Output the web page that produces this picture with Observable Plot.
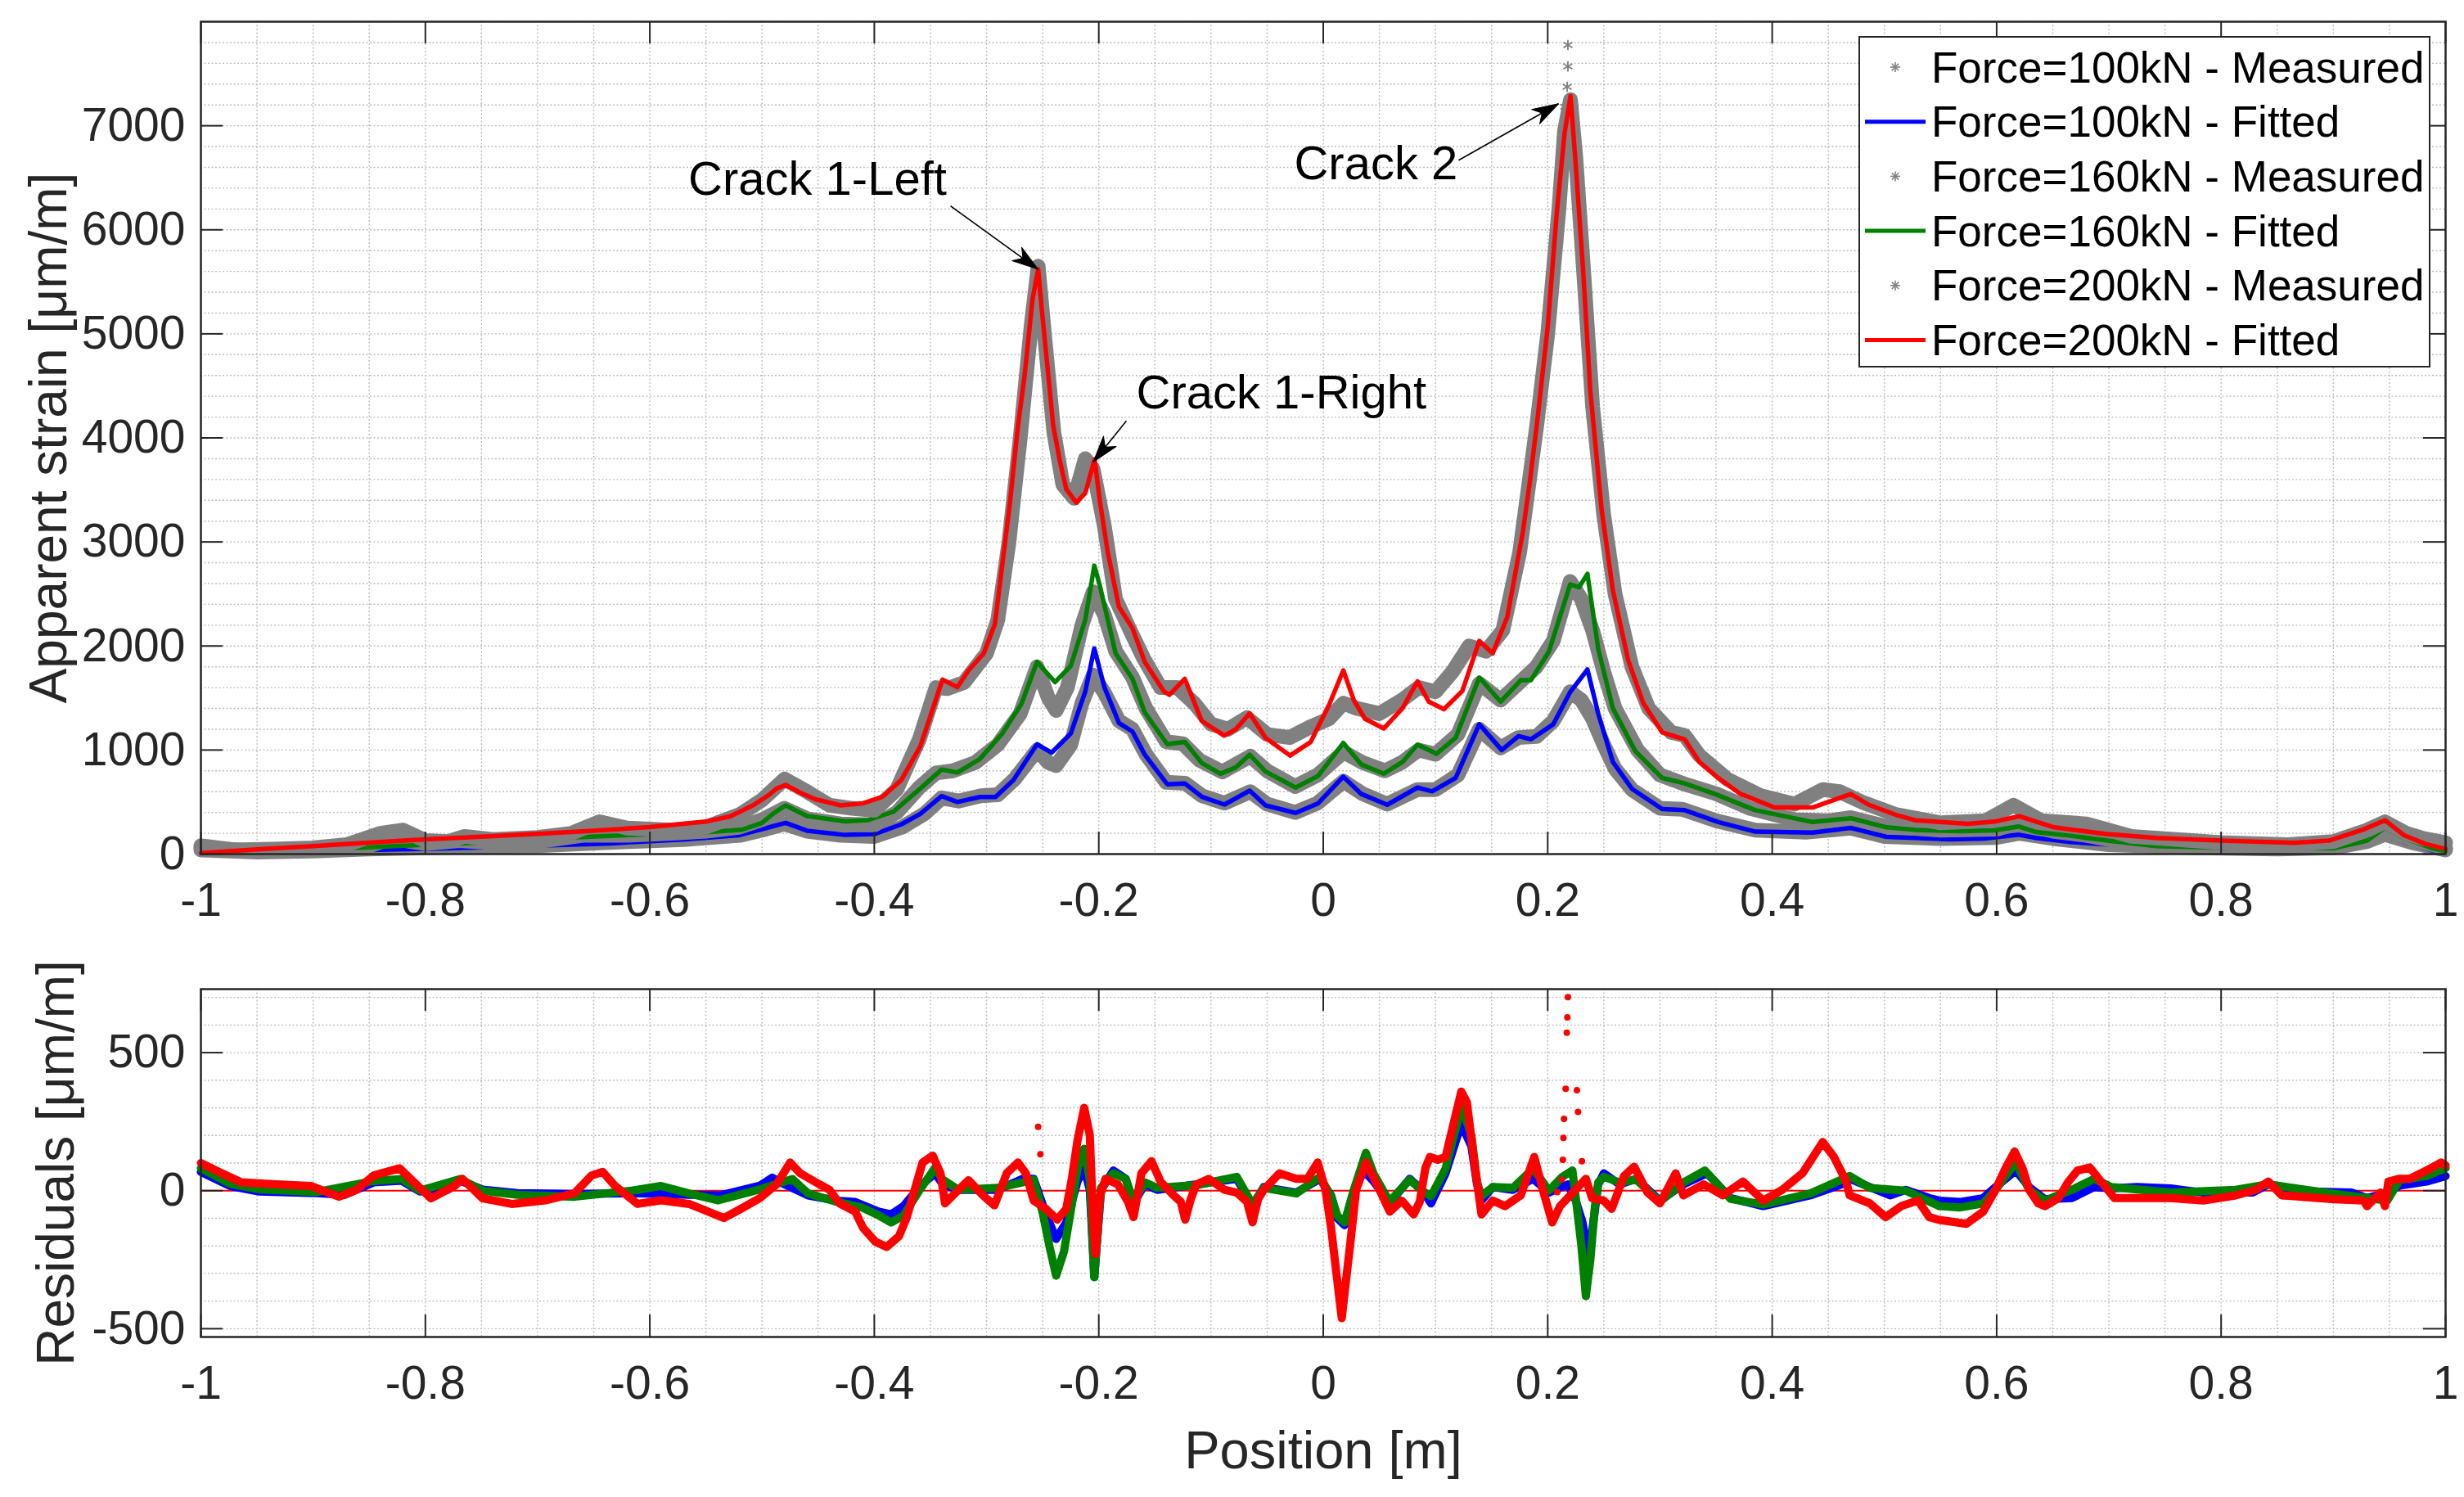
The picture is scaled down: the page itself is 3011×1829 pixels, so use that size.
<!DOCTYPE html>
<html><head><meta charset="utf-8">
<script src="https://cdn.jsdelivr.net/npm/d3@7"></script>
<script src="https://cdn.jsdelivr.net/npm/@observablehq/plot@0.6"></script>
<style>
html,body{margin:0;padding:0;background:#fff;}
#wrap{position:relative;width:3011px;height:1829px;background:#fff;overflow:hidden;}
#top,#bottom,#legend{position:absolute;left:0;}
#top{top:0}
#bottom{top:1150px}
#legend{left:2271px;top:44px;}
</style></head><body>
<div id="wrap"><div id="top"></div><div id="bottom"></div><div id="legend"></div></div>
<script>
// ---------------- DATA ----------------
const xTicks = [-1,-0.8,-0.6,-0.4,-0.2,0,0.2,0.4,0.6,0.8,1];
const strainTicks = [0,1000,2000,3000,4000,5000,6000,7000];
const residTicks = [-500,0,500];
const legendLabels = ["Force=100kN - Measured","Force=100kN - Fitted","Force=160kN - Measured","Force=160kN - Fitted","Force=200kN - Measured","Force=200kN - Fitted"];

const fit100 = [[-1,10],[-0.95,20],[-0.9,30],[-0.85,40],[-0.8,50],[-0.75,65],[-0.7,80],[-0.635,103],[-0.568,142],[-0.521,181],[-0.5,240],[-0.479,300],[-0.46,225],[-0.426,184],[-0.4,192],[-0.376,285],[-0.359,387],[-0.34,557],[-0.326,500],[-0.306,549],[-0.292,549],[-0.276,711],[-0.255,1056],[-0.242,975],[-0.225,1158],[-0.212,1563],[-0.204,1977],[-0.195,1604],[-0.182,1259],[-0.17,1178],[-0.159,955],[-0.139,671],[-0.1234,679],[-0.108,549],[-0.088,476],[-0.0655,610],[-0.0514,468],[-0.0246,395],[-0.0045,488],[0.0179,744],[0.034,577],[0.057,474],[0.084,639],[0.097,603],[0.118,732],[0.139,1248],[0.159,1000],[0.174,1134],[0.185,1103],[0.205,1248],[0.22,1557],[0.2354,1774],[0.245,1351],[0.258,886],[0.275,628],[0.302,433],[0.322,422],[0.352,308],[0.385,216],[0.436,206],[0.47,252],[0.502,165],[0.5275,155],[0.558,142],[0.589,150],[0.62,186],[0.635,155],[0.666,116],[0.712,82],[0.773,50],[0.834,45],[0.9,60],[0.93,120],[0.946,194],[0.963,116],[0.988,37],[1,19]];

const fit160 = [[-1,20],[-0.95,30],[-0.9,45],[-0.85,65],[-0.8,90],[-0.75,110],[-0.7,135],[-0.67,160],[-0.6,190],[-0.55,210],[-0.518,234],[-0.5,300],[-0.49,390],[-0.479,468],[-0.46,366],[-0.426,314],[-0.406,326],[-0.383,407],[-0.359,630],[-0.34,813],[-0.326,784],[-0.306,914],[-0.286,1158],[-0.269,1442],[-0.255,1847],[-0.239,1653],[-0.225,1807],[-0.212,2253],[-0.204,2772],[-0.199,2578],[-0.185,1929],[-0.17,1685],[-0.159,1361],[-0.139,1056],[-0.1234,1077],[-0.108,874],[-0.0916,772],[-0.078,833],[-0.0655,955],[-0.0514,793],[-0.0246,639],[-0.0045,752],[0.0179,1068],[0.034,860],[0.054,773],[0.0707,886],[0.084,1052],[0.101,964],[0.118,1119],[0.139,1697],[0.158,1465],[0.176,1671],[0.185,1671],[0.201,1945],[0.22,2591],[0.228,2565],[0.2354,2693],[0.245,1971],[0.258,1403],[0.278,990],[0.302,732],[0.322,680],[0.349,577],[0.385,422],[0.436,308],[0.47,345],[0.502,257],[0.5275,233],[0.567,220],[0.598,228],[0.62,265],[0.635,212],[0.666,176],[0.699,129],[0.742,76],[0.8,60],[0.9,55],[0.93,130],[0.946,254],[0.963,155],[0.988,55],[1,29]];

const fit200 = [[-1,10],[-0.95,45],[-0.9,77],[-0.85,110],[-0.8,142],[-0.75,168],[-0.7,194],[-0.65,225],[-0.6,260],[-0.55,312],[-0.528,364],[-0.508,469],[-0.495,560],[-0.487,630],[-0.479,665],[-0.466,590],[-0.453,529],[-0.43,468],[-0.41,488],[-0.393,549],[-0.376,711],[-0.359,1036],[-0.349,1360],[-0.3393,1677],[-0.326,1604],[-0.316,1766],[-0.3025,1929],[-0.2925,2213],[-0.286,2780],[-0.279,3389],[-0.2724,4079],[-0.266,4606],[-0.259,5336],[-0.254,5620],[-0.2506,5215],[-0.245,4606],[-0.2406,4119],[-0.235,3795],[-0.229,3510],[-0.22,3377],[-0.212,3470],[-0.2037,3795],[-0.199,3389],[-0.192,2902],[-0.182,2375],[-0.17,2172],[-0.159,1847],[-0.142,1563],[-0.137,1531],[-0.1234,1685],[-0.1083,1280],[-0.0882,1138],[-0.0782,1198],[-0.0655,1352],[-0.0514,1117],[-0.0296,947],[-0.0112,1077],[0.0055,1442],[0.0179,1766],[0.0272,1480],[0.0372,1300],[0.0539,1207],[0.0707,1403],[0.084,1661],[0.094,1465],[0.1075,1392],[0.124,1568],[0.139,2048],[0.151,1929],[0.164,2280],[0.178,3106],[0.184,3570],[0.191,4190],[0.2,5067],[0.208,6151],[0.215,6925],[0.2203,7286],[0.2247,6667],[0.2314,5635],[0.238,4448],[0.248,3312],[0.258,2538],[0.2716,1867],[0.285,1454],[0.302,1170],[0.322,1103],[0.335,886],[0.352,731],[0.372,577],[0.402,448],[0.436,448],[0.47,577],[0.486,474],[0.512,370],[0.5275,325],[0.574,291],[0.598,312],[0.62,364],[0.65,260],[0.696,194],[0.742,155],[0.8,129],[0.865,108],[0.896,129],[0.926,233],[0.946,325],[0.963,181],[0.982,97],[1,50]];

const meas100 = [[-1,40],[-0.95,20],[-0.9,30],[-0.85,50],[-0.8,60],[-0.75,70],[-0.7,80],[-0.64,110],[-0.57,140],[-0.52,180],[-0.5,230],[-0.48,290],[-0.46,220],[-0.43,180],[-0.4,170],[-0.375,260],[-0.355,390],[-0.34,540],[-0.325,510],[-0.305,560],[-0.29,570],[-0.275,720],[-0.255,1000],[-0.245,880],[-0.238,850],[-0.225,1050],[-0.215,1450],[-0.205,1720],[-0.195,1550],[-0.182,1280],[-0.17,1200],[-0.158,960],[-0.14,690],[-0.123,680],[-0.108,560],[-0.088,490],[-0.065,600],[-0.05,480],[-0.025,400],[-0.005,490],[0.018,700],[0.035,580],[0.057,480],[0.084,620],[0.1,620],[0.12,760],[0.139,1200],[0.158,1020],[0.174,1120],[0.19,1130],[0.205,1280],[0.22,1560],[0.23,1480],[0.24,1300],[0.25,1050],[0.26,820],[0.275,620],[0.3,440],[0.32,430],[0.35,320],[0.385,230],[0.43,210],[0.47,250],[0.5,170],[0.55,150],[0.6,160],[0.62,200],[0.65,150],[0.7,90],[0.78,60],[0.85,50],[0.9,60],[0.93,120],[0.946,190],[0.97,110],[1,40]];

const meas160 = [[-1,60],[-0.95,30],[-0.9,40],[-0.85,80],[-0.83,150],[-0.8,100],[-0.77,130],[-0.74,110],[-0.7,120],[-0.66,180],[-0.62,180],[-0.58,200],[-0.55,220],[-0.52,260],[-0.5,330],[-0.48,440],[-0.46,340],[-0.43,290],[-0.4,280],[-0.38,400],[-0.36,640],[-0.345,780],[-0.33,800],[-0.31,880],[-0.29,1050],[-0.27,1350],[-0.255,1800],[-0.245,1500],[-0.238,1380],[-0.228,1600],[-0.215,2200],[-0.205,2520],[-0.195,2300],[-0.185,1950],[-0.17,1700],[-0.158,1400],[-0.14,1080],[-0.125,1060],[-0.11,900],[-0.09,790],[-0.065,940],[-0.05,800],[-0.025,650],[-0.005,760],[0.018,980],[0.035,880],[0.055,800],[0.07,880],[0.085,1000],[0.1,960],[0.12,1150],[0.139,1640],[0.158,1480],[0.175,1650],[0.19,1800],[0.205,2050],[0.22,2620],[0.23,2450],[0.24,2150],[0.25,1750],[0.26,1400],[0.28,1000],[0.3,760],[0.32,680],[0.35,580],[0.38,440],[0.42,330],[0.45,320],[0.47,350],[0.5,270],[0.55,230],[0.6,240],[0.62,300],[0.65,220],[0.68,180],[0.72,100],[0.8,70],[0.9,70],[0.93,140],[0.946,240],[0.97,140],[1,60]];

const meas200 = [[-1,80],[-0.97,40],[-0.93,50],[-0.9,60],[-0.87,90],[-0.84,200],[-0.82,230],[-0.8,130],[-0.78,120],[-0.765,170],[-0.74,140],[-0.7,160],[-0.67,200],[-0.645,310],[-0.62,250],[-0.58,230],[-0.55,260],[-0.52,380],[-0.5,520],[-0.48,720],[-0.46,600],[-0.44,470],[-0.42,440],[-0.4,420],[-0.38,620],[-0.36,1100],[-0.345,1600],[-0.335,1590],[-0.32,1650],[-0.3,1930],[-0.29,2250],[-0.28,3000],[-0.27,4000],[-0.26,5100],[-0.254,5650],[-0.248,4950],[-0.24,4050],[-0.232,3550],[-0.222,3420],[-0.212,3800],[-0.205,3700],[-0.195,3150],[-0.185,2450],[-0.172,2150],[-0.16,1880],[-0.145,1600],[-0.13,1600],[-0.115,1450],[-0.1,1250],[-0.085,1200],[-0.068,1310],[-0.05,1150],[-0.03,1120],[-0.01,1230],[0.005,1300],[0.018,1450],[0.03,1400],[0.05,1350],[0.07,1480],[0.085,1600],[0.1,1560],[0.115,1750],[0.13,2000],[0.145,1950],[0.16,2150],[0.175,2900],[0.19,4100],[0.2,5000],[0.21,6200],[0.215,6950],[0.2203,7250],[0.225,6700],[0.232,5600],[0.24,4300],[0.25,3250],[0.26,2500],[0.275,1800],[0.29,1400],[0.31,1170],[0.322,1140],[0.335,950],[0.36,720],[0.39,560],[0.42,480],[0.445,620],[0.46,600],[0.48,500],[0.51,380],[0.55,300],[0.59,320],[0.615,470],[0.64,320],[0.68,290],[0.72,170],[0.8,110],[0.86,90],[0.9,120],[0.93,230],[0.946,310],[0.965,200],[0.98,150],[1,110]];

const meas200Sparse = [[0.218,7776],[0.218,7570],[0.2173,7374],[0.2153,7183],[0.213,6744],[0.2274,6564],[0.212,6306],[0.233,5506],[0.236,4757]];

const res100 = [[-1,68],[-0.974,17],[-0.948,-3],[-0.897,-9],[-0.872,-15],[-0.846,30],[-0.821,36],[-0.805,-3],[-0.78,4],[-0.769,36],[-0.749,4],[-0.718,-9],[-0.667,-12],[-0.616,-9],[-0.565,-15],[-0.537,-17],[-0.502,18],[-0.491,47],[-0.48,23],[-0.459,-17],[-0.434,-36],[-0.417,-41],[-0.396,-76],[-0.385,-86],[-0.374,-56],[-0.36,13],[-0.346,63],[-0.339,23],[-0.325,3],[-0.29,3],[-0.268,43],[-0.258,43],[-0.247,-86],[-0.238,-175],[-0.229,-115],[-0.219,33],[-0.213,82],[-0.208,3],[-0.204,-313],[-0.198,3],[-0.187,73],[-0.176,43],[-0.169,-46],[-0.159,23],[-0.148,3],[-0.113,23],[-0.077,43],[-0.063,-56],[-0.053,13],[-0.024,-7],[-0.003,43],[0.007,-17],[0.0125,-100],[0.019,-125],[0.027,-7],[0.036,73],[0.045,33],[0.059,-46],[0.077,43],[0.088,3],[0.096,-46],[0.109,63],[0.119,191],[0.123,241],[0.132,161],[0.137,23],[0.141,-36],[0.151,13],[0.169,3],[0.187,43],[0.201,-7],[0.218,23],[0.225,-36],[0.231,-115],[0.236,-234],[0.24,-135],[0.245,23],[0.25,63],[0.264,23],[0.279,43],[0.3,-36],[0.321,23],[0.342,63],[0.363,-27],[0.392,-56],[0.434,-17],[0.462,23],[0.469,43],[0.487,13],[0.505,-17],[0.519,3],[0.54,-27],[0.549,-36],[0.567,-41],[0.588,-27],[0.599,13],[0.617,73],[0.629,13],[0.643,-31],[0.667,-27],[0.687,13],[0.702,8],[0.725,13],[0.755,8],[0.784,-7],[0.828,-7],[0.842,23],[0.872,-2],[0.916,-7],[0.93,-27],[0.948,-7],[0.959,18],[0.983,33],[1,53]];

const res160 = [[-1,81],[-0.974,25],[-0.948,5],[-0.897,-5],[-0.846,35],[-0.821,42],[-0.805,0],[-0.769,42],[-0.749,0],[-0.718,-15],[-0.667,-22],[-0.616,0],[-0.59,17],[-0.565,-10],[-0.539,-35],[-0.502,5],[-0.473,42],[-0.459,-10],[-0.434,-40],[-0.411,-61],[-0.396,-90],[-0.385,-115],[-0.374,-90],[-0.36,0],[-0.346,82],[-0.339,40],[-0.325,3],[-0.29,10],[-0.268,30],[-0.258,40],[-0.25,-80],[-0.244,-200],[-0.238,-308],[-0.231,-220],[-0.224,-50],[-0.219,80],[-0.213,152],[-0.208,40],[-0.204,-313],[-0.198,10],[-0.187,63],[-0.176,43],[-0.169,-40],[-0.159,30],[-0.148,10],[-0.113,20],[-0.077,50],[-0.063,-50],[-0.053,10],[-0.024,-10],[-0.003,50],[0.007,-20],[0.0125,-90],[0.019,-115],[0.027,0],[0.038,137],[0.045,60],[0.059,-40],[0.077,40],[0.088,0],[0.096,-20],[0.109,80],[0.119,240],[0.123,310],[0.132,200],[0.137,30],[0.141,-20],[0.151,13],[0.169,10],[0.187,80],[0.201,0],[0.213,50],[0.222,73],[0.226,-60],[0.23,-200],[0.234,-382],[0.238,-250],[0.242,-60],[0.245,30],[0.25,50],[0.264,30],[0.279,40],[0.3,-40],[0.321,30],[0.34,73],[0.363,-30],[0.392,-50],[0.434,-10],[0.469,53],[0.487,10],[0.519,0],[0.549,-56],[0.567,-61],[0.588,-46],[0.599,3],[0.617,102],[0.629,3],[0.643,-36],[0.667,3],[0.687,43],[0.702,13],[0.755,-7],[0.813,3],[0.842,23],[0.901,-12],[0.948,-36],[0.959,38],[0.983,53],[1,82]];

const res200 = [[-1,100],[-0.984,68],[-0.964,30],[-0.933,23],[-0.902,17],[-0.877,-22],[-0.861,4],[-0.846,55],[-0.823,81],[-0.81,30],[-0.795,-28],[-0.774,17],[-0.767,43],[-0.749,-28],[-0.723,-48],[-0.693,-35],[-0.667,-9],[-0.652,55],[-0.642,68],[-0.631,17],[-0.611,-48],[-0.59,-35],[-0.565,-48],[-0.534,-99],[-0.519,-66],[-0.502,-27],[-0.487,23],[-0.475,102],[-0.466,63],[-0.449,23],[-0.44,3],[-0.431,-46],[-0.417,-76],[-0.41,-135],[-0.399,-185],[-0.389,-204],[-0.378,-165],[-0.371,-96],[-0.364,3],[-0.357,102],[-0.348,127],[-0.341,63],[-0.337,-46],[-0.325,3],[-0.316,38],[-0.304,-14],[-0.293,-53],[-0.282,63],[-0.272,102],[-0.265,63],[-0.258,-36],[-0.247,-66],[-0.237,-105],[-0.229,-66],[-0.224,43],[-0.219,181],[-0.213,300],[-0.208,201],[-0.205,-100],[-0.203,-230],[-0.199,-20],[-0.194,43],[-0.183,23],[-0.174,-40],[-0.169,-96],[-0.162,63],[-0.153,107],[-0.145,33],[-0.134,-14],[-0.127,-40],[-0.123,-105],[-0.118,-30],[-0.113,23],[-0.102,43],[-0.088,3],[-0.077,-7],[-0.068,-40],[-0.063,-115],[-0.058,-30],[-0.053,3],[-0.039,63],[-0.024,43],[-0.014,43],[-0.005,102],[0.002,3],[0.007,-135],[0.011,-274],[0.0165,-462],[0.021,-300],[0.024,-194],[0.0293,3],[0.038,102],[0.049,13],[0.0593,-76],[0.07,-36],[0.0805,-86],[0.086,-40],[0.091,82],[0.095,122],[0.102,112],[0.109,122],[0.116,241],[0.123,359],[0.128,320],[0.134,122],[0.141,-86],[0.151,-36],[0.162,-56],[0.176,-17],[0.188,122],[0.197,-17],[0.204,-115],[0.211,-56],[0.234,43],[0.2396,-27],[0.25,-36],[0.257,-66],[0.268,53],[0.277,87],[0.289,-7],[0.3,-46],[0.314,63],[0.321,-17],[0.339,23],[0.356,-17],[0.374,33],[0.392,-36],[0.409,3],[0.427,63],[0.445,176],[0.455,122],[0.466,33],[0.469,-17],[0.487,-46],[0.501,-96],[0.515,-56],[0.53,-36],[0.54,-96],[0.549,-106],[0.573,-120],[0.588,-76],[0.599,3],[0.608,82],[0.616,142],[0.623,82],[0.629,3],[0.637,-46],[0.643,-56],[0.655,-27],[0.664,33],[0.672,73],[0.683,84],[0.693,33],[0.705,-27],[0.725,-27],[0.755,-27],[0.784,-36],[0.813,-17],[0.831,3],[0.842,33],[0.854,-17],[0.872,-22],[0.901,-31],[0.927,-36],[0.93,-56],[0.942,-7],[0.946,-56],[0.949,33],[0.959,43],[0.968,43],[0.983,73],[0.996,102],[1,92]];

const res200Sparse = [[-0.254,231],[-0.252,132],[0.2085,-5],[0.2125,40],[0.2135,112],[0.214,191],[0.2145,260],[0.216,369],[0.217,572],[0.2175,628],[0.218,701],[0.226,364],[0.227,285],[0.2305,107]];

const annText  = ["Crack 1-Left","Crack 2","Crack 1-Right"];
const annTextX = [-0.5658,-0.0259,-0.1666];
const annTextY = [6339,6488,4281];
const annTailX = [-0.3321,0.1207,-0.1754];
const annTailY = [6229,6669,4163];
const annTipX  = [-0.254,0.2096,-0.2048];
const annTipY  = [5620,7211,3770];

// ---------------- LAYOUT / STYLE ----------------
const W = 3011, ML = 245, MR = 23, TICK = 27;
const topH = 1150, topMT = 26, topMB = 107;
const botH = 679, botMT = 58, botMB = 196;
const FONT = "'Liberation Sans', Arial, Helvetica, sans-serif";
const AX = "#262626";
const GRAY = "#808080", BLUE = "#0000ff", GREEN = "#008000", RED = "#ff0000";
const GRID = {stroke: "#bcbcbc", strokeOpacity: 1, strokeWidth: 1.4, strokeDasharray: "2,2.5"};
const innerW = W - ML - MR;
const xMinor = d3.range(-1, 1.0001, 0.05).map(v => +v.toFixed(2));

function gridMarks(yMinor) {
  return [
    Plot.ruleX(xMinor, {x: d => d, ...GRID}),
    Plot.ruleY(yMinor, {y: d => d, ...GRID}),
  ];
}
function boxMarks(innerH, yT, yLabel, yLabelBaseline) {
  const fmt = d => String(d);
  return [
    Plot.tickX(xTicks, {x: d => d, insetTop: innerH - TICK, stroke: AX, strokeWidth: 2}),
    Plot.tickX(xTicks, {x: d => d, insetBottom: innerH - TICK, stroke: AX, strokeWidth: 2}),
    Plot.tickY(yT, {y: d => d, insetRight: innerW - TICK, stroke: AX, strokeWidth: 2}),
    Plot.tickY(yT, {y: d => d, insetLeft: innerW - TICK, stroke: AX, strokeWidth: 2}),
    Plot.frame({stroke: AX, strokeWidth: 2.5}),
    Plot.axisX(xTicks, {tickSize: 0, tickPadding: 35, tickFormat: fmt, fontSize: 57, label: null, fill: AX}),
    Plot.axisY(yT, {tickSize: 0, tickPadding: 19, tickFormat: fmt, fontSize: 57, label: null, fill: AX}),
    Plot.text([yLabel], {frameAnchor: "left", rotate: -90, dx: yLabelBaseline - ML, textAnchor: "middle", lineAnchor: "bottom", fontSize: 64, fill: AX})
  ];
}

// ---------------- TOP PLOT ----------------
const topInnerH = topH - topMT - topMB;
const kx = innerW / 2, ky = topInnerH / 8000;
const annIdx = annText.map((_, i) => i);
const annAngle = annIdx.map(i => {
  const dxp = (annTipX[i] - annTailX[i]) * kx;
  const dyp = -(annTipY[i] - annTailY[i]) * ky;
  return Math.atan2(dxp, -dyp) * 180 / Math.PI;
});
const headShape = {draw(ctx, l, r) { ctx.moveTo(0, -l); ctx.lineTo(r, 0); ctx.lineTo(0, -l * 0.28); ctx.lineTo(-r, 0); ctx.closePath(); }};

function topMarks(useVector) {
  const measOpts = {x: d => d[0], y: d => d[1], stroke: GRAY, strokeWidth: 18, strokeLinejoin: "round", strokeLinecap: "round"};
  const fitOpts = c => ({x: d => d[0], y: d => d[1], stroke: c, strokeWidth: 5.5, strokeLinejoin: "round"});
  const arrowMarks = useVector ? [
    Plot.link(annIdx, {x1: i => annTailX[i], y1: i => annTailY[i], x2: i => annTipX[i], y2: i => annTipY[i], stroke: "black", strokeWidth: 1.6}),
    Plot.vector(annIdx, {x: i => annTipX[i], y: i => annTipY[i], rotate: i => annAngle[i], length: 32, r: 10, anchor: "end", shape: headShape, fill: "black", stroke: "black", strokeWidth: 1})
  ] : [
    Plot.arrow(annIdx, {x1: i => annTailX[i], y1: i => annTailY[i], x2: i => annTipX[i], y2: i => annTipY[i], stroke: "black", strokeWidth: 1.6, headLength: 30})
  ];
  return [
    ...gridMarks(d3.range(0, 8001, 200)),
    Plot.line(meas100, measOpts),
    Plot.line(fit100, fitOpts(BLUE)),
    Plot.line(meas160, measOpts),
    Plot.line(fit160, fitOpts(GREEN)),
    Plot.line(meas200, measOpts),
    Plot.dot(meas200Sparse, {x: d => d[0], y: d => d[1], symbol: "asterisk", r: 6, stroke: GRAY, strokeWidth: 1.8}),
    Plot.line(fit200, fitOpts(RED)),
    ...arrowMarks,
    Plot.text(annIdx, {x: i => annTextX[i], y: i => annTextY[i], text: i => annText[i], textAnchor: "start", lineAnchor: "bottom", fontSize: 58, fill: "black"}),
    ...boxMarks(topInnerH, strainTicks, "Apparent strain [μm/m]", 80)
  ];
}
const commonStyle = {fontFamily: FONT, fontSize: "57px", color: AX, background: "white", overflow: "visible"};
function makeTop(useVector) {
  return Plot.plot({
    width: W, height: topH, marginLeft: ML, marginRight: MR, marginTop: topMT, marginBottom: topMB,
    style: commonStyle,
    x: {domain: [-1, 1]},
    y: {domain: [0, 8000]},
    marks: topMarks(useVector)
  });
}
let topSvg;
try { topSvg = makeTop(true); } catch (e) { topSvg = makeTop(false); }
document.getElementById("top").append(topSvg);

// ---------------- BOTTOM PLOT ----------------
const botInnerH = botH - botMT - botMB;
const resOpts = c => ({x: d => d[0], y: d => d[1], stroke: c, strokeWidth: 10, strokeLinejoin: "round", strokeLinecap: "round"});
const botSvg = Plot.plot({
  width: W, height: botH, marginLeft: ML, marginRight: MR, marginTop: botMT, marginBottom: botMB,
  style: commonStyle,
  x: {domain: [-1, 1]},
  y: {domain: [-530, 730]},
  marks: [
    ...gridMarks(d3.range(-500, 701, 100)),
    Plot.ruleY([0], {stroke: RED, strokeWidth: 2}),
    Plot.line(res100, resOpts(BLUE)),
    Plot.line(res160, resOpts(GREEN)),
    Plot.line(res200, resOpts(RED)),
    Plot.dot(res200Sparse, {x: d => d[0], y: d => d[1], r: 4, fill: RED}),
    ...boxMarks(botInnerH, residTicks, "Residuals [μm/m]", 89),
    Plot.text(["Position [m]"], {frameAnchor: "bottom", dy: 160, lineAnchor: "bottom", fontSize: 65, fill: AX})
  ]
});
document.getElementById("bottom").append(botSvg);

// ---------------- LEGEND (inside the axes, top-right) ----------------
const legendColors = [GRAY, BLUE, GRAY, GREEN, GRAY, RED];
const legendKinds = ["marker", "line", "marker", "line", "marker", "line"];
const LW = 699, LH = 405;
const lg = d3.select("#legend").append("svg").attr("width", LW).attr("height", LH)
  .style("font-family", FONT);
lg.append("rect").attr("x", 1).attr("y", 1).attr("width", LW - 2).attr("height", LH - 2)
  .attr("fill", "white").attr("stroke", AX).attr("stroke-width", 2);
legendLabels.forEach((lab, i) => {
  const cy = 38 + i * 66.7;
  if (legendKinds[i] === "line") {
    lg.append("line").attr("x1", 8).attr("x2", 82).attr("y1", cy).attr("y2", cy)
      .attr("stroke", legendColors[i]).attr("stroke-width", 5);
  } else {
    const s = 6, g = lg.append("g").attr("transform", `translate(45,${cy})`)
      .attr("stroke", legendColors[i]).attr("stroke-width", 1.6);
    g.append("line").attr("x1", -s).attr("x2", s).attr("y1", 0).attr("y2", 0);
    g.append("line").attr("x1", 0).attr("x2", 0).attr("y1", -s).attr("y2", s);
    g.append("line").attr("x1", -s * 0.7).attr("x2", s * 0.7).attr("y1", -s * 0.7).attr("y2", s * 0.7);
    g.append("line").attr("x1", -s * 0.7).attr("x2", s * 0.7).attr("y1", s * 0.7).attr("y2", -s * 0.7);
  }
  lg.append("text").attr("x", 89).attr("y", cy).attr("dy", "0.35em")
    .attr("font-size", 53).attr("fill", "black").text(lab);
});
</script>
</body></html>
